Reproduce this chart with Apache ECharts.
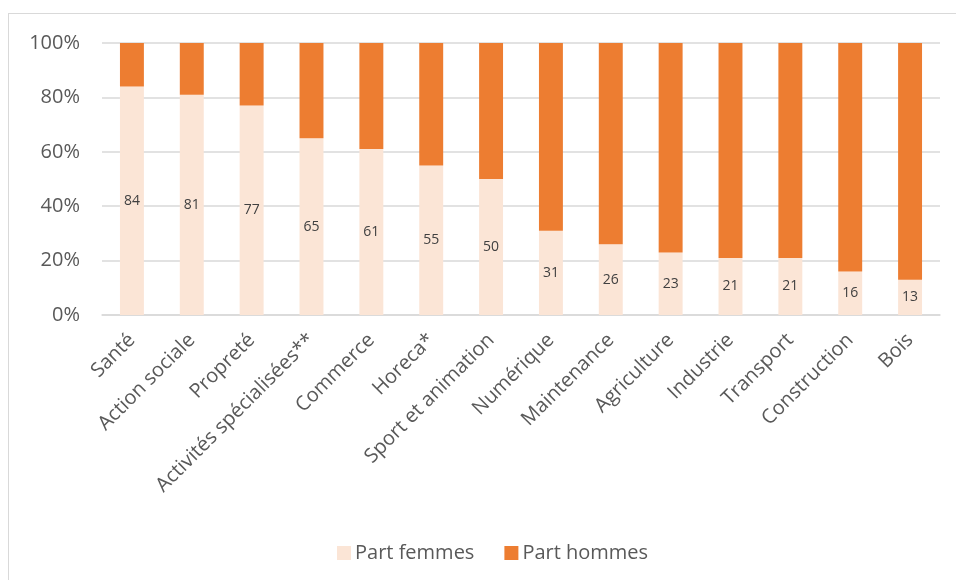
<!DOCTYPE html>
<html>
<head>
<meta charset="utf-8">
<script src="https://cdn.jsdelivr.net/npm/echarts@6/dist/echarts.min.js"></script>
<style>
html,body{margin:0;padding:0;background:#fff;}
#frame{position:absolute;left:8px;top:13px;width:960px;height:600px;border:1.5px solid #d9d9d9;box-sizing:border-box;}
#chart{position:absolute;left:0;top:0;width:956px;height:580px;}
</style>
</head>
<body>
<div id="frame"></div>
<div id="chart"></div>
<script>
const categories = ["Santé","Action sociale","Propreté","Activités spécialisées**","Commerce","Horeca*","Sport et animation","Numérique","Maintenance","Agriculture","Industrie","Transport","Construction","Bois"];
const partFemmes = [84,81,77,65,61,55,50,31,26,23,21,21,16,13];
const partHommes = [16,19,23,35,39,45,50,69,74,77,79,79,84,87];
const yTicks = [0,20,40,60,80,100];

const chart = echarts.init(document.getElementById('chart'), null, {renderer:'canvas'});
const font = '"Open Sans", "Noto Sans", sans-serif';
chart.setOption({
  animation:false,
  textStyle:{fontFamily:font},
  grid:{left:102,right:16,top:43,bottom:265,containLabel:false},
  legend:{
    data:['Part femmes','Part hommes'],
    left:332, top:538,
    itemWidth:14, itemHeight:14, itemGap:30,
    icon:'rect',
    textStyle:{fontSize:20,color:'#595959',fontFamily:font,padding:[0,0,0,-1]}
  },
  xAxis:{
    type:'category',
    data:categories,
    axisLine:{show:true,lineStyle:{color:'#d9d9d9',width:1.5}},
    axisTick:{show:false},
    axisLabel:{rotate:45,fontSize:20,color:'#595959',margin:22,interval:0,fontFamily:font}
  },
  yAxis:{
    type:'value',
    min:yTicks[0], max:yTicks[yTicks.length-1], interval:20,
    axisLabel:{formatter:v=>v+'%',fontSize:20,color:'#595959',margin:22,fontFamily:font},
    splitLine:{lineStyle:{color:'#d9d9d9',width:1.5}},
    axisLine:{show:false},axisTick:{show:false}
  },
  series:[
    {name:'Part femmes',type:'bar',stack:'s',barWidth:'40%',data:partFemmes,
     itemStyle:{color:'#FBE5D6'},
     label:{show:true,position:'inside',color:'#404040',fontSize:14,fontFamily:font}},
    {name:'Part hommes',type:'bar',stack:'s',barWidth:'40%',data:partHommes,
     itemStyle:{color:'#ED7D31'}}
  ]
});
</script>
</body>
</html>
